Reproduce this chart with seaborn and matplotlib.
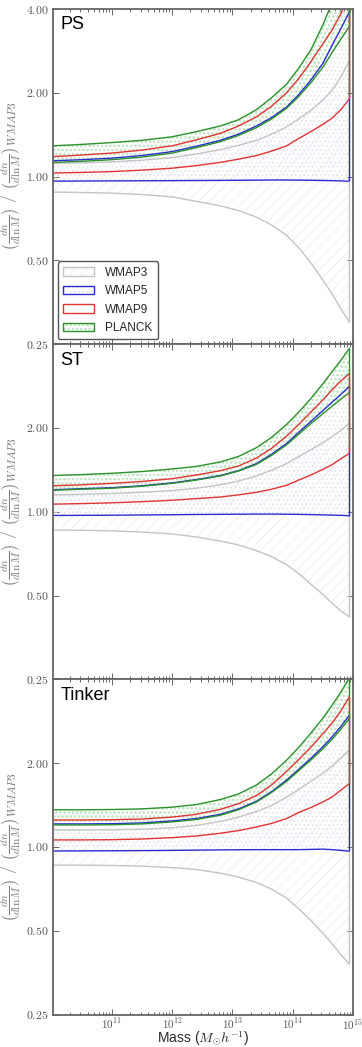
import numpy as np
import pandas as pd
import matplotlib
matplotlib.use("Agg")
import matplotlib.pyplot as plt
import seaborn as sns
from matplotlib.patches import Patch
from matplotlib.legend_handler import HandlerTuple
from matplotlib.ticker import FixedLocator, FuncFormatter, NullLocator, LogLocator

# ---------------------------------------------------------------------------
# Mass-function ratios relative to WMAP3 (lower / upper envelope per cosmology)
# ---------------------------------------------------------------------------
log_mass = [10.02, 10.5, 11.0, 11.5, 12.0, 12.4, 12.8, 13.1, 13.4, 13.65,
            13.9, 14.1, 14.3, 14.5, 14.65, 14.8, 14.94]

models = ["PS", "ST", "Tinker"]
cosmologies = ["WMAP3", "WMAP5", "WMAP9", "PLANCK"]
y_ticks = [0.25, 0.5, 1.0, 2.0, 4.0]

# Press-Schechter
ps_wmap3_lo = [0.880, 0.877, 0.872, 0.862, 0.845, 0.815, 0.785, 0.755, 0.715, 0.670, 0.615, 0.555, 0.490, 0.425, 0.380, 0.335, 0.300]
ps_wmap3_hi = [1.115, 1.120, 1.130, 1.145, 1.170, 1.205, 1.250, 1.295, 1.350, 1.420, 1.510, 1.610, 1.730, 1.880, 2.040, 2.280, 2.600]
ps_wmap5_lo = [0.963, 0.964, 0.965, 0.966, 0.967, 0.968, 0.969, 0.970, 0.971, 0.972, 0.972, 0.971, 0.970, 0.968, 0.967, 0.965, 0.962]
ps_wmap5_hi = [1.140, 1.150, 1.165, 1.190, 1.230, 1.285, 1.350, 1.420, 1.520, 1.630, 1.780, 1.970, 2.220, 2.550, 2.950, 3.400, 3.900]
ps_wmap9_lo = [1.030, 1.035, 1.042, 1.055, 1.072, 1.095, 1.125, 1.155, 1.190, 1.235, 1.290, 1.370, 1.450, 1.540, 1.620, 1.740, 1.900]
ps_wmap9_hi = [1.180, 1.195, 1.215, 1.245, 1.290, 1.355, 1.430, 1.520, 1.640, 1.790, 2.000, 2.250, 2.580, 3.000, 3.350, 3.850, 4.500]
ps_planck_lo = [1.125, 1.135, 1.150, 1.175, 1.215, 1.270, 1.335, 1.405, 1.500, 1.610, 1.760, 1.940, 2.170, 2.470, 2.780, 3.120, 3.460]
ps_planck_hi = [1.290, 1.305, 1.325, 1.350, 1.390, 1.450, 1.520, 1.600, 1.740, 1.920, 2.150, 2.450, 2.850, 3.500, 4.200, 5.000, 5.800]

# Sheth-Tormen
st_wmap3_lo = [0.860, 0.858, 0.854, 0.846, 0.832, 0.812, 0.785, 0.760, 0.725, 0.690, 0.645, 0.600, 0.550, 0.505, 0.470, 0.440, 0.420]
st_wmap3_hi = [1.150, 1.155, 1.163, 1.175, 1.192, 1.215, 1.250, 1.290, 1.345, 1.410, 1.490, 1.580, 1.670, 1.770, 1.860, 1.960, 2.080]
st_wmap5_lo = [0.970, 0.971, 0.972, 0.974, 0.976, 0.978, 0.979, 0.980, 0.981, 0.981, 0.980, 0.979, 0.977, 0.975, 0.973, 0.971, 0.968]
st_wmap5_hi = [1.200, 1.210, 1.220, 1.240, 1.270, 1.305, 1.350, 1.405, 1.490, 1.610, 1.760, 1.930, 2.110, 2.310, 2.470, 2.640, 2.820]
st_wmap9_lo = [1.065, 1.070, 1.077, 1.087, 1.100, 1.115, 1.130, 1.150, 1.175, 1.205, 1.245, 1.300, 1.355, 1.420, 1.475, 1.550, 1.620]
st_wmap9_hi = [1.240, 1.250, 1.265, 1.285, 1.315, 1.355, 1.405, 1.460, 1.560, 1.690, 1.870, 2.060, 2.280, 2.520, 2.740, 2.950, 3.140]
st_planck_lo = [1.195, 1.205, 1.215, 1.235, 1.265, 1.300, 1.345, 1.400, 1.480, 1.595, 1.740, 1.900, 2.070, 2.250, 2.390, 2.540, 2.680]
st_planck_hi = [1.350, 1.360, 1.375, 1.395, 1.425, 1.455, 1.510, 1.580, 1.700, 1.850, 2.060, 2.280, 2.550, 2.880, 3.180, 3.500, 3.860]

# Tinker
tk_wmap3_lo = [0.860, 0.860, 0.858, 0.853, 0.843, 0.830, 0.805, 0.780, 0.745, 0.705, 0.655, 0.600, 0.545, 0.490, 0.450, 0.410, 0.380]
tk_wmap3_hi = [1.150, 1.150, 1.152, 1.158, 1.172, 1.195, 1.235, 1.280, 1.340, 1.410, 1.510, 1.610, 1.720, 1.840, 1.950, 2.090, 2.230]
tk_wmap5_lo = [0.967, 0.968, 0.969, 0.970, 0.972, 0.974, 0.976, 0.977, 0.978, 0.978, 0.978, 0.978, 0.980, 0.982, 0.978, 0.972, 0.965]
tk_wmap5_hi = [1.210, 1.210, 1.212, 1.220, 1.240, 1.265, 1.310, 1.370, 1.460, 1.580, 1.740, 1.900, 2.080, 2.290, 2.480, 2.710, 2.970]
tk_wmap9_lo = [1.060, 1.060, 1.062, 1.068, 1.080, 1.095, 1.120, 1.145, 1.180, 1.215, 1.265, 1.330, 1.385, 1.450, 1.510, 1.600, 1.690]
tk_wmap9_hi = [1.250, 1.250, 1.253, 1.260, 1.280, 1.310, 1.365, 1.430, 1.530, 1.670, 1.870, 2.060, 2.280, 2.550, 2.780, 3.080, 3.460]
tk_planck_lo = [1.200, 1.200, 1.202, 1.210, 1.230, 1.255, 1.300, 1.360, 1.450, 1.570, 1.720, 1.880, 2.050, 2.250, 2.430, 2.650, 2.890]
tk_planck_hi = [1.360, 1.360, 1.363, 1.370, 1.390, 1.420, 1.480, 1.550, 1.670, 1.830, 2.050, 2.280, 2.560, 2.900, 3.220, 3.600, 4.050]

bands = {
    "PS": {"WMAP3": (ps_wmap3_lo, ps_wmap3_hi), "WMAP5": (ps_wmap5_lo, ps_wmap5_hi),
           "WMAP9": (ps_wmap9_lo, ps_wmap9_hi), "PLANCK": (ps_planck_lo, ps_planck_hi)},
    "ST": {"WMAP3": (st_wmap3_lo, st_wmap3_hi), "WMAP5": (st_wmap5_lo, st_wmap5_hi),
           "WMAP9": (st_wmap9_lo, st_wmap9_hi), "PLANCK": (st_planck_lo, st_planck_hi)},
    "Tinker": {"WMAP3": (tk_wmap3_lo, tk_wmap3_hi), "WMAP5": (tk_wmap5_lo, tk_wmap5_hi),
               "WMAP9": (tk_wmap9_lo, tk_wmap9_hi), "PLANCK": (tk_planck_lo, tk_planck_hi)},
}

# ---------------------------------------------------------------------------
# Styling
# ---------------------------------------------------------------------------
line_colors = {"WMAP3": "#c4c4c4", "WMAP5": "#2b2bd0", "WMAP9": "#e03434", "PLANCK": "#2a922a"}
hatch_colors = {"WMAP3": "#ececec", "WMAP5": "#dcdcf4", "WMAP9": "#f6e0e0", "PLANCK": "#c8e6c8"}
hatches = {"WMAP3": "///", "WMAP5": "....", "WMAP9": "", "PLANCK": "oooo"}

sns.set_style("ticks")
plt.rcParams["font.family"] = ["Liberation Sans", "DejaVu Sans"]
plt.rcParams["mathtext.fontset"] = "cm"
plt.rcParams["hatch.linewidth"] = 0.5

spine_color = "#666666"
tick_label_color = "#555555"

fig, axes = plt.subplots(3, 1, figsize=(3.62, 10.47), dpi=100, sharex=True)
fig.subplots_adjust(left=0.146, right=0.975, top=0.9914, bottom=0.031, hspace=0)

mass = 10 ** np.array(log_mass)


def y_formatter(hide_top):
    def fmt(v, pos):
        if hide_top and np.isclose(v, y_ticks[-1]):
            return ""
        return f"${v:.2f}$"
    return FuncFormatter(fmt)


for i, (ax, model) in enumerate(zip(axes, models)):
    ax.set_xscale("log")
    ax.set_yscale("log")

    rows = []
    for cos in cosmologies:
        lo, hi = bands[model][cos]
        if hatches[cos]:
            ax.fill_between(mass, lo, hi, facecolor="none", edgecolor=hatch_colors[cos],
                            hatch=hatches[cos], linewidth=0, zorder=1)
        for bound, vals in (("lo", lo), ("hi", hi)):
            rows.extend({"mass": m, "ratio": v, "cosmology": cos, "bound": bound}
                        for m, v in zip(mass, vals))
    df = pd.DataFrame(rows)

    sns.lineplot(data=df, x="mass", y="ratio", hue="cosmology", units="bound",
                 estimator=None, hue_order=cosmologies, palette=line_colors,
                 linewidth=1.0, legend=False, ax=ax, zorder=2)

    # close each band at the high-mass end
    for cos in cosmologies:
        lo, hi = bands[model][cos]
        ax.vlines(mass[-1], lo[-1], hi[-1], color=line_colors[cos], linewidth=1.0, zorder=2)

    ax.set_xlim(10 ** 10.02, 1e15)
    ax.set_ylim(0.25, 4.0)

    ax.yaxis.set_major_locator(FixedLocator(y_ticks))
    ax.yaxis.set_minor_locator(NullLocator())
    ax.yaxis.set_major_formatter(y_formatter(hide_top=i > 0))
    ax.xaxis.set_major_locator(LogLocator(base=10))
    ax.xaxis.set_minor_locator(LogLocator(base=10, subs=np.arange(2, 10)))
    ax.xaxis.set_major_formatter(FuncFormatter(lambda v, p: f"$10^{{{int(round(np.log10(v)))}}}$"))

    ax.tick_params(which="both", direction="in", top=True, right=True,
                   color=spine_color, labelcolor=tick_label_color, labelsize=8.5, width=0.7)
    ax.tick_params(which="major", length=4, pad=3)
    ax.tick_params(which="minor", length=2.2)
    ax.tick_params(axis="x", which="major", pad=1.5, labelsize=8)
    for sp in ax.spines.values():
        sp.set_color(spine_color)
        sp.set_linewidth(1.3)

    ax.set_xlabel("")
    ax.set_ylabel(r"$\left(\frac{dn}{d\ln M}\right)\ /\ \left(\frac{dn}{d\ln M}\right)_{WMAP3}$",
                  fontsize=11.5, color="#7a7a7a", labelpad=2)
    ax.text(0.025, 0.978, model, transform=ax.transAxes, ha="left", va="top",
            fontsize=13, color="black")

axes[-1].set_xlabel(r"Mass ($M_{\odot}h^{-1}$)", fontsize=10)
axes[-1].xaxis.set_label_coords(0.5, -0.044)

handles = []
for cos in cosmologies:
    hatch_patch = Patch(facecolor="none", edgecolor=hatch_colors[cos], hatch=hatches[cos], linewidth=0)
    edge_patch = Patch(facecolor="none", edgecolor=line_colors[cos], linewidth=1.0)
    handles.append((hatch_patch, edge_patch))

leg = axes[0].legend(handles, cosmologies, loc="lower left", fontsize=8.5,
                     handler_map={tuple: HandlerTuple(ndivide=1, pad=0)},
                     handlelength=2.6, handleheight=0.75, handletextpad=1.0,
                     labelspacing=0.55, borderpad=0.45, borderaxespad=0.4,
                     frameon=True, fancybox=True, framealpha=1.0)
leg.get_frame().set_edgecolor("#555555")
leg.get_frame().set_linewidth(1.0)

fig.savefig("out.png", dpi=100)
